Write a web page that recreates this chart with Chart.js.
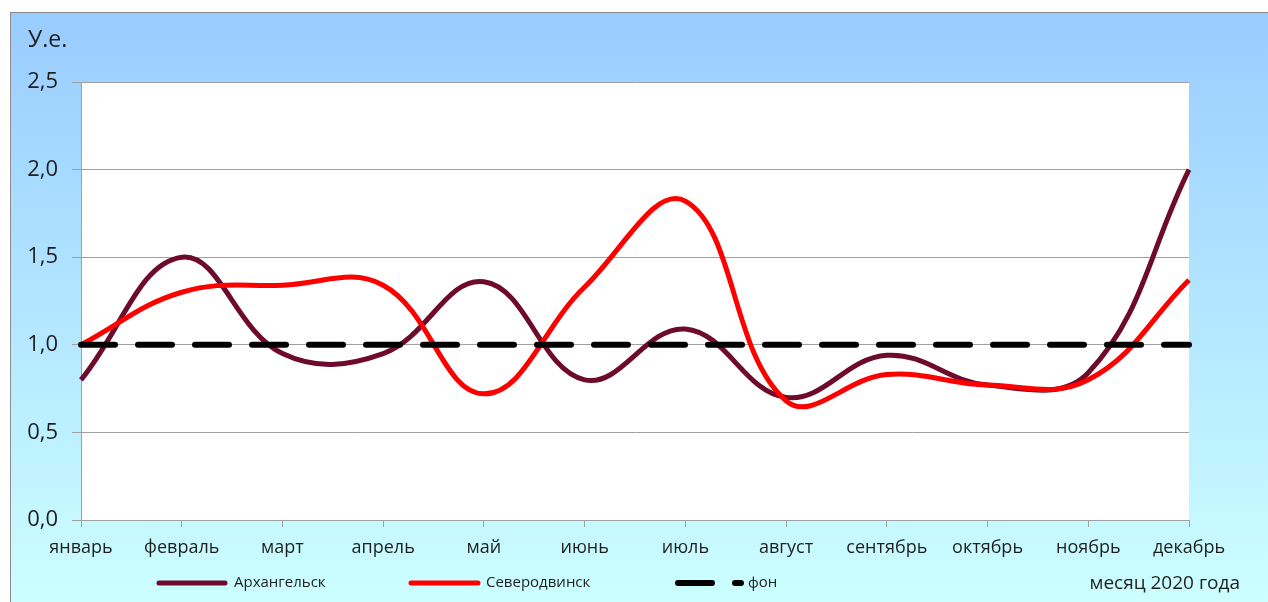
<!DOCTYPE html>
<html>
<head>
<meta charset="utf-8">
<script src="https://cdn.jsdelivr.net/npm/chart.js@4/dist/chart.umd.min.js"></script>
<style>
  html, body { margin: 0; padding: 0; background: #ffffff; }
  #wrap { width: 1268px; height: 602px; position: relative; }
</style>
</head>
<body>
<div id="wrap"><canvas id="c" width="1268" height="602"></canvas></div>
<script>
// ---- data ----
const months = ['январь','февраль','март','апрель','май','июнь','июль','август','сентябрь','октябрь','ноябрь','декабрь'];
const arkhangelsk = [0.80, 1.50, 0.95, 0.95, 1.36, 0.80, 1.09, 0.70, 0.94, 0.77, 0.84, 2.00];
const severodvinsk = [1.00, 1.30, 1.34, 1.34, 0.72, 1.33, 1.82, 0.68, 0.83, 0.77, 0.80, 1.37];
const background = [1.0, 1.0, 1.0, 1.0, 1.0, 1.0, 1.0, 1.0, 1.0, 1.0, 1.0, 1.0];
const seriesNames = ['Архангельск', 'Северодвинск', 'фон'];
const yTickLabels = ['0,0', '0,5', '1,0', '1,5', '2,0', '2,5'];
const yAxisTitle = 'У.е.';
const xAxisTitle = 'месяц 2020 года';

// ---- styling ----
const MAROON = '#6E0B2B';
const RED = '#FF0000';
const GRID = '#A0A0A0';
const TEXT = '#1E1E1E';
const FONT = '"Open Sans", "Noto Sans", sans-serif';
const LEGEND_FONT = '"Liberation Sans Narrow", "Open Sans", sans-serif';

const framePlugin = {
  id: 'frame',
  beforeDraw(chart) {
    const ctx = chart.ctx;
    const W = chart.width, H = chart.height;
    ctx.save();
    ctx.fillStyle = '#ffffff';
    ctx.fillRect(0, 0, W, H);
    const g = ctx.createLinearGradient(0, 12, 0, H);
    g.addColorStop(0, '#99CCFF');
    g.addColorStop(1, '#CCFFFF');
    ctx.fillStyle = g;
    ctx.fillRect(10, 12, W - 10, H - 12);
    ctx.strokeStyle = '#8C8C8C';
    ctx.lineWidth = 1;
    ctx.strokeRect(10.5, 12.5, W + 10, H + 10);
    const a = chart.chartArea;
    ctx.fillStyle = '#ffffff';
    ctx.fillRect(a.left, a.top, a.right - a.left, a.bottom - a.top);
    ctx.restore();
  },
  afterDraw(chart) {
    const ctx = chart.ctx;
    ctx.save();
    ctx.fillStyle = TEXT;
    ctx.textBaseline = 'middle';
    ctx.textAlign = 'left';
    ctx.font = '23px ' + FONT;
    ctx.fillText(yAxisTitle, 28, 40);
    ctx.font = '19px ' + FONT;
    ctx.textAlign = 'right';
    ctx.fillText(xAxisTitle, 1240, 584);

    // legend
    const ds = chart.data.datasets;
    const items = [
      { x1: 157, x2: 227, tx: 234 },
      { x1: 409, x2: 480, tx: 486 },
      { x1: 676, x2: 743, tx: 748 }
    ];
    const ly = 583;
    ctx.textAlign = 'left';
    ctx.font = '15px ' + LEGEND_FONT;
    items.forEach((it, i) => {
      const d = ds[i];
      ctx.save();
      ctx.strokeStyle = d.borderColor;
      ctx.lineWidth = i === 2 ? 6 : 5;
      ctx.lineCap = 'round';
      if (d.borderDash) ctx.setLineDash(d.borderDash);
      ctx.beginPath();
      ctx.moveTo(it.x1 + 2, ly);
      ctx.lineTo(it.x2 - 2, ly);
      ctx.stroke();
      ctx.restore();
      ctx.fillStyle = TEXT;
      ctx.fillText(d.label, it.tx, ly);
    });
    ctx.restore();
  }
};

const ctx = document.getElementById('c').getContext('2d');
new Chart(ctx, {
  type: 'line',
  data: {
    labels: months,
    datasets: [
      { label: seriesNames[0], data: arkhangelsk, borderColor: MAROON, backgroundColor: MAROON,
        borderWidth: 5, pointRadius: 0, tension: 0.4, order: 2, fill: false },
      { label: seriesNames[1], data: severodvinsk, borderColor: RED, backgroundColor: RED,
        borderWidth: 5, pointRadius: 0, tension: 0.4, order: 1, fill: false },
      { label: seriesNames[2], data: background, borderColor: '#000000', backgroundColor: '#000000',
        borderWidth: 6, borderDash: [34, 23], borderCapStyle: 'round', pointRadius: 0, tension: 0, order: 0, fill: false }
    ]
  },
  options: {
    responsive: false,
    animation: false,
    devicePixelRatio: 1,
    layout: { padding: { left: 0, top: 82, right: 79, bottom: 32 } },
    plugins: { legend: { display: false }, tooltip: { enabled: false }, title: { display: false } },
    scales: {
      x: {
        offset: false,
        grid: { drawOnChartArea: false, drawTicks: true, tickLength: 7, color: GRID, lineWidth: 1 },
        border: { color: GRID, width: 1 },
        ticks: { color: TEXT, font: { family: FONT, size: 18 }, padding: 10, maxRotation: 0, autoSkip: false },
        afterFit(scale) { scale.height = 50; }
      },
      y: {
        min: 0, max: 2.5,
        grid: { color: GRID, lineWidth: 1, tickLength: 9, drawTicks: true },
        border: { color: GRID, width: 1 },
        ticks: {
          stepSize: 0.5, color: TEXT, font: { family: FONT, size: 22 }, padding: 14,
          callback: (v, i) => yTickLabels[i]
        },
        afterFit(scale) { scale.width = 81; }
      }
    }
  },
  plugins: [framePlugin]
});
</script>
</body>
</html>
